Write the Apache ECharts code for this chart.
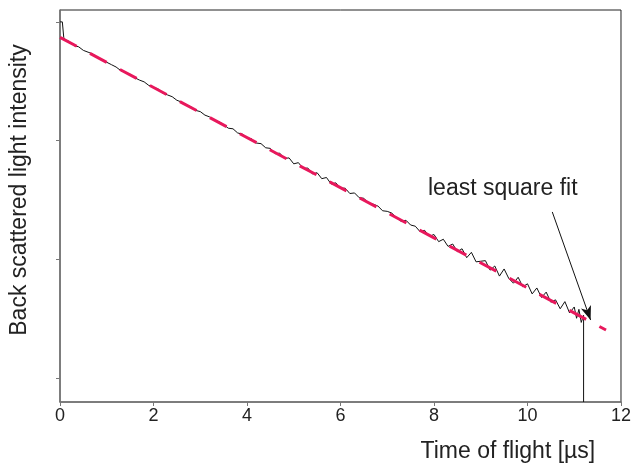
<!DOCTYPE html>
<html>
<head>
<meta charset="utf-8">
<script src="https://cdn.jsdelivr.net/npm/echarts@6/dist/echarts.min.js"></script>
<style>
  html, body { margin: 0; padding: 0; background: #fff; }
  #chart { width: 634px; height: 470px; }
</style>
</head>
<body>
<div id="chart"></div>
<script>
// time of flight [us], measured signal (arbitrary intensity units)
var times = [0, 0.05, 0.08,
  0.1, 0.2, 0.3, 0.4, 0.5, 0.6, 0.7, 0.8, 0.9, 1.0,
  1.1, 1.2, 1.3, 1.4, 1.5, 1.6, 1.7, 1.8, 1.9, 2.0,
  2.1, 2.2, 2.3, 2.4, 2.5, 2.6, 2.7, 2.8, 2.9, 3.0,
  3.1, 3.2, 3.3, 3.4, 3.5, 3.6, 3.7, 3.8, 3.9, 4.0,
  4.1, 4.2, 4.3, 4.4, 4.5, 4.6, 4.7, 4.8, 4.9, 5.0,
  5.1, 5.2, 5.3, 5.4, 5.5, 5.6, 5.7, 5.8, 5.9, 6.0,
  6.1, 6.2, 6.3, 6.4, 6.5, 6.6, 6.7, 6.8, 6.9, 7.0,
  7.1, 7.2, 7.3, 7.4, 7.5, 7.6, 7.7, 7.8, 7.9, 8.0,
  8.1, 8.2, 8.3, 8.4, 8.5, 8.6, 8.7, 8.8, 8.9, 9.0,
  9.1, 9.2, 9.3, 9.4, 9.5, 9.6, 9.7, 9.8, 9.9, 10.0,
  10.1, 10.2, 10.3, 10.4, 10.5, 10.6, 10.7, 10.8, 10.9, 11.0,
  11.05, 11.1, 11.15, 11.2, 11.2];
var intensity = [320, 320, 307,
  305, 303.5, 300, 299, 296, 294.5, 293, 290, 288.5, 286,
  284, 282, 279, 277.5, 276, 273, 271, 269.5, 266.5, 265,
  263.5, 260, 258.5, 257, 254, 252.5, 250, 248.5, 245.5, 244.5,
  241.5, 240, 237, 236, 233.5, 230.5, 230, 226.5, 225.5, 222.5,
  221.5, 218, 217.5, 214, 213.5, 209, 209.5, 205, 205.5, 200.5,
  201.5, 196.5, 197, 192, 193, 188, 189, 183.5, 184.5, 180,
  180, 175.5, 176, 172, 171.5, 167.5, 166.5, 165, 161, 160.5,
  159, 155, 152, 153, 149, 148, 143.5, 144.5, 139.5, 141,
  135, 137, 131, 133, 126.5, 129, 121.5, 126, 118, 118.5,
  119, 111, 114.5, 106, 112, 104, 100, 105, 97, 99.5,
  91, 96, 88, 92.5, 84, 86, 78.5, 84.5, 75, 80,
  70.5, 78, 67, 73, 0];

// least square fit end points
var fitTimes = [0, 11.68];
var fitValues = [307, 60.6];

// arrow pointing at the fit: [start, end]
var arrowTimes = [10.53, 11.35];
var arrowValues = [160, 69];

var xTicks = [0, 2, 4, 6, 8, 10, 12];
var yTicks = [20, 120, 220, 320];

var measured = times.map(function (t, i) { return [t, intensity[i]]; });
var fitLine = fitTimes.map(function (t, i) { return [t, fitValues[i]]; });

var chart = echarts.init(document.getElementById('chart'));
var font = '"Liberation Sans", Arial, Helvetica, sans-serif';

chart.setOption({
  animation: false,
  grid: {
    left: 59,
    right: 11,
    top: 10,
    bottom: 68,
    show: true,
    borderColor: '#222',
    borderWidth: 1
  },
  xAxis: {
    type: 'value',
    min: 0,
    max: 12,
    interval: 2,
    name: 'Time of flight [µs]',
    nameLocation: 'middle',
    nameGap: 38,
    nameTextStyle: {
      fontFamily: font,
      fontSize: 23,
      color: '#222',
      align: 'left',
      padding: [0, 0, 0, 80]
    },
    splitLine: { show: false },
    axisLine: { lineStyle: { color: '#777', width: 1.5 } },
    axisTick: { show: true, length: 4, lineStyle: { color: '#777' } },
    axisLabel: {
      fontFamily: font,
      fontSize: 18,
      color: '#222',
      margin: 5,
      customValues: xTicks
    }
  },
  yAxis: {
    type: 'value',
    min: 0,
    max: 330,
    name: 'Back scattered light intensity',
    nameLocation: 'middle',
    nameGap: 29,
    nameTextStyle: {
      fontFamily: font,
      fontSize: 23,
      color: '#222',
      padding: [0, 0, 0, 32]
    },
    splitLine: { show: false },
    axisLine: { show: true, lineStyle: { color: '#777', width: 1.5 } },
    axisTick: { show: true, length: 4, lineStyle: { color: '#777' }, customValues: yTicks },
    axisLabel: { show: false }
  },
  graphic: [
    {
      type: 'text',
      left: 428,
      top: 177,
      style: {
        text: 'least square fit',
        fontFamily: font,
        fontSize: 23,
        fill: '#222'
      }
    }
  ],
  series: [
    {
      name: 'measured',
      type: 'line',
      data: measured,
      showSymbol: false,
      symbol: 'none',
      lineStyle: { color: '#111', width: 1 },
      z: 2
    },
    {
      name: 'fit',
      type: 'line',
      data: fitLine,
      showSymbol: false,
      symbol: 'none',
      lineStyle: { color: '#e8185c', width: 3, type: [19, 15] },
      z: 3,
      markLine: {
        silent: true,
        symbol: ['none', 'arrow'],
        symbolSize: [8, 14],
        label: { show: false },
        lineStyle: { color: '#111', width: 1, type: 'solid' },
        data: [[
          { coord: [arrowTimes[0], arrowValues[0]] },
          { coord: [arrowTimes[1], arrowValues[1]] }
        ]]
      }
    }
  ]
});
</script>
</body>
</html>
